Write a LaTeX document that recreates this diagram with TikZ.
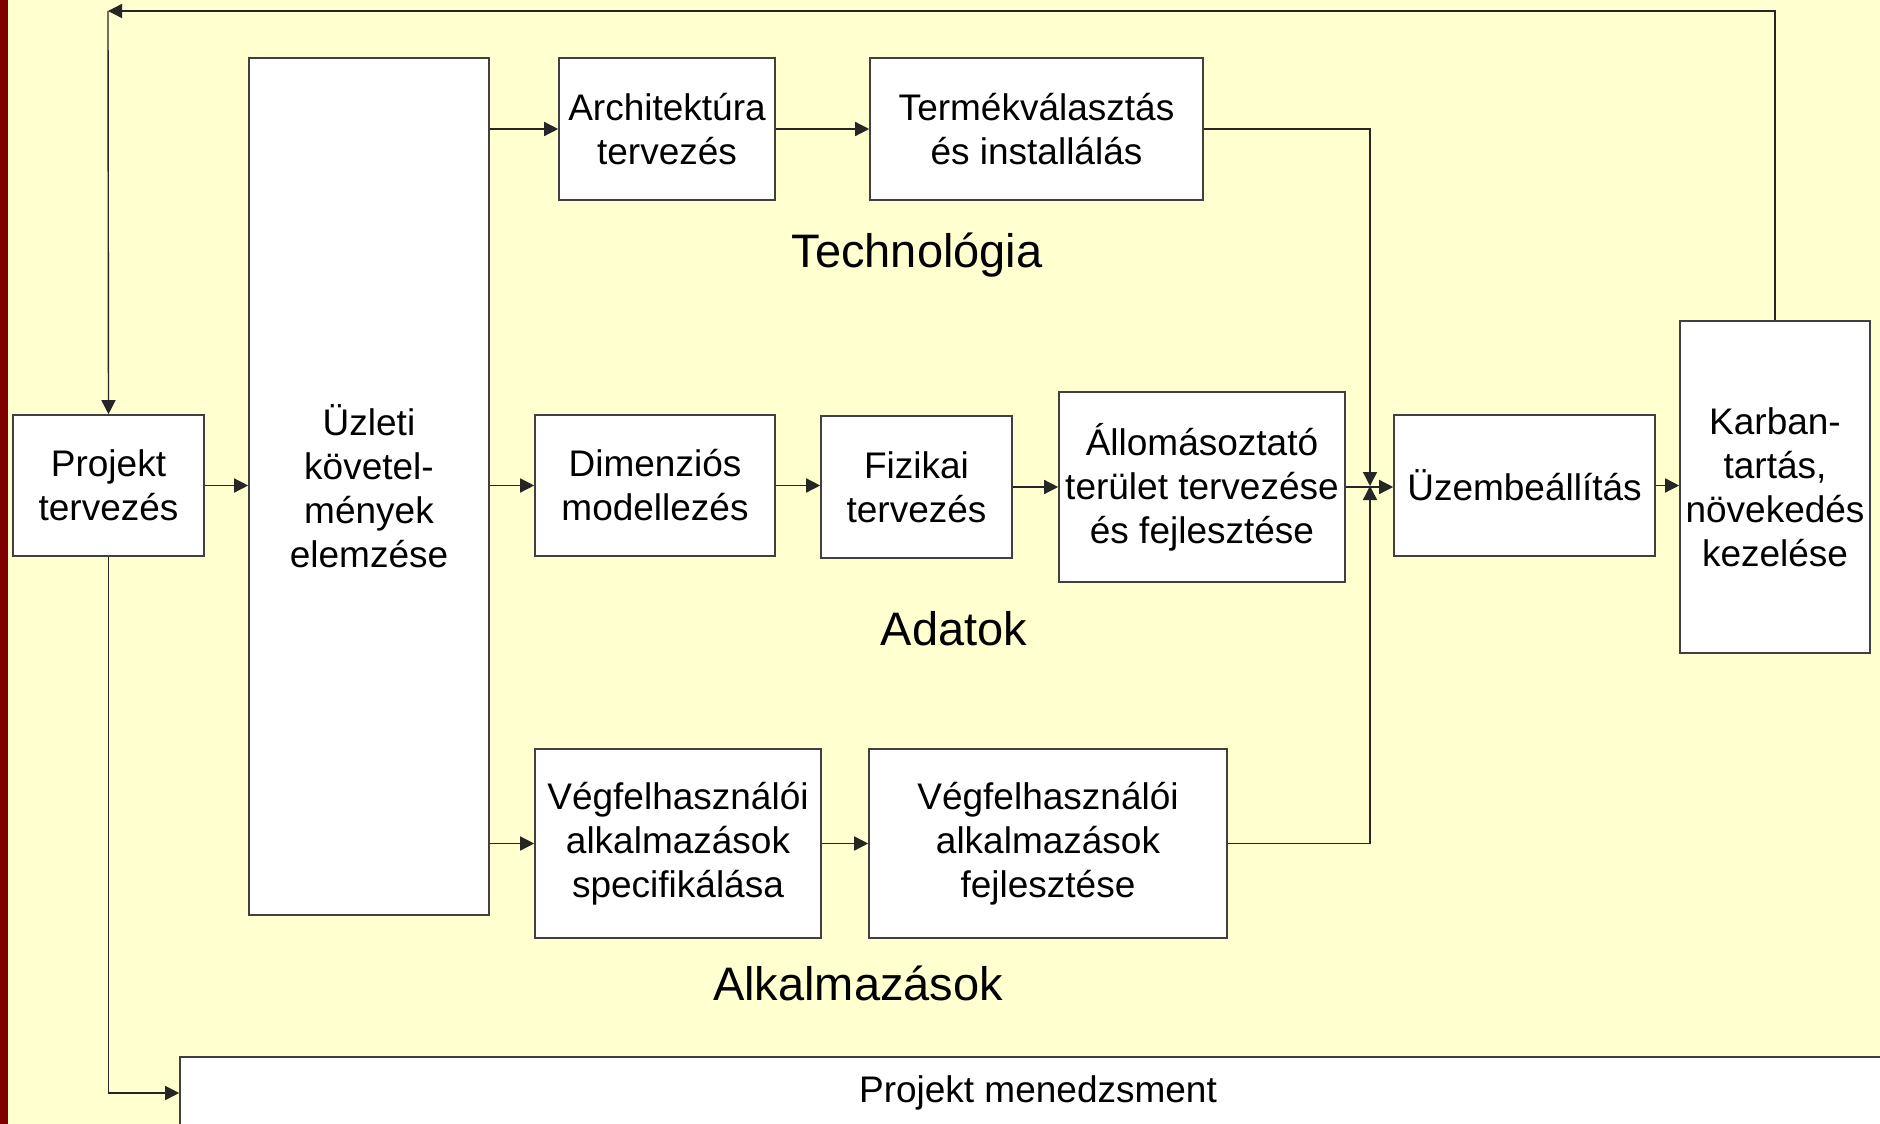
\documentclass[tikz,border=0pt]{standalone}
\usepackage{fontspec}
\setmainfont{Liberation Sans}
\usetikzlibrary{arrows.meta}

\definecolor{bgyellow}{RGB}{255,255,208}
\definecolor{sidered}{RGB}{128,0,0}

\begin{document}
\begin{tikzpicture}[
    x=1pt, y=-1pt,
    box/.style={
        draw=black!75,
        fill=white,
        line width=1.6pt,
        inner sep=0pt,
        align=center,
        font=\fontsize{37}{44}\selectfont
    },
    phase/.style={
        font=\fontsize{47}{56}\selectfont
    },
    flow/.style={
        line width=1.4pt,
        black!85,
        -{Triangle[length=14pt,width=14pt]}
    }
]

    % ==========================================
    % BACKGROUND
    % ==========================================
    \useasboundingbox (0,0) rectangle (1880,1124);
    \fill[bgyellow] (0,0) rectangle (1880,1124);
    \fill[sidered] (0,0) rectangle (8,1124);

    % ==========================================
    % NODES PLACEMENT
    % ==========================================

    % Left column
    \node[box, minimum width=191pt, minimum height=141pt] (Projekt) at (108.5, 485.5) {Projekt\\tervezés};
    \node[box, minimum width=240pt, minimum height=857pt] (Uzleti) at (369, 486.5) {Üzleti\\követel-\\mények\\elemzése};

    % Technology row
    \node[box, minimum width=216pt, minimum height=142pt] (Arch) at (667, 129) {Architektúra\\tervezés};
    \node[box, minimum width=333pt, minimum height=142pt] (Termek) at (1036.5, 129) {Termékválasztás\\és installálás};
    \node[phase] (TechLabel) at (917, 255) {Technológia};

    % Data row
    \node[box, minimum width=240pt, minimum height=141pt] (Dim) at (655, 485.5) {Dimenziós\\modellezés};
    \node[box, minimum width=191pt, minimum height=142pt] (Fiz) at (916.5, 487) {Fizikai\\tervezés};
    \node[box, minimum width=286pt, minimum height=190pt] (Allomas) at (1202, 487) {Állomásoztató\\terület tervezése\\és fejlesztése};
    \node[phase] (DataLabel) at (954, 629) {Adatok};

    % Application row
    \node[box, minimum width=286pt, minimum height=189pt] (VegSpec) at (678, 843.5) {Végfelhasználói\\alkalmazások\\specifikálása};
    \node[box, minimum width=358pt, minimum height=189pt] (VegFejl) at (1048, 843.5) {Végfelhasználói\\alkalmazások\\fejlesztése};
    \node[phase] (AppLabel) at (858, 983) {Alkalmazások};

    % Right column
    \node[box, minimum width=261pt, minimum height=141pt] (Uzem) at (1524.5, 485.5) {Üzembeállítás};
    \node[box, minimum width=190pt, minimum height=332pt] (Karb) at (1775, 487) {Karban-\\tartás,\\növekedés\\kezelése};

    % Bottom bar
    \node[box, minimum width=1716pt, minimum height=72pt] (Menedzs) at (1038, 1093) {Projekt menedzsment};

    % Helper points
    \coordinate (merge) at (1370, 486);
    \coordinate (corner) at (108, 11);

    % ==========================================
    % CONNECTIONS
    % ==========================================

    \draw[flow] (Projekt.east) -- (Projekt.east -| Uzleti.west);
    \draw[flow] (Arch.west -| Uzleti.east) -- (Arch.west);
    \draw[flow] (Dim.west -| Uzleti.east) -- (Dim.west);
    \draw[flow] (VegSpec.west -| Uzleti.east) -- (VegSpec.west);

    \draw[flow] (Arch) -- (Termek);
    \draw[flow] (Dim.east) -- (Dim.east -| Fiz.west);
    \draw[flow] (Fiz) -- (Allomas);
    \draw[flow] (VegSpec) -- (VegFejl);

    % Joining into deployment
    \draw[flow] (Termek.east) -| (merge);
    \draw[flow] (VegFejl.east) -| (merge);
    \draw[flow] (Allomas.east) -- (Allomas.east -| Uzem.west);
    \draw[flow] (Uzem.east) -- (Uzem.east -| Karb.west);

    % Feedback loop
    \draw[flow] (Karb.north) |- (corner);
    \draw[flow] (corner) -- (Projekt.north);

    % Project management
    \draw[flow] (Projekt.south) |- (Projekt.south |- Menedzs.west) -- (Menedzs.west);

\end{tikzpicture}
\end{document}
